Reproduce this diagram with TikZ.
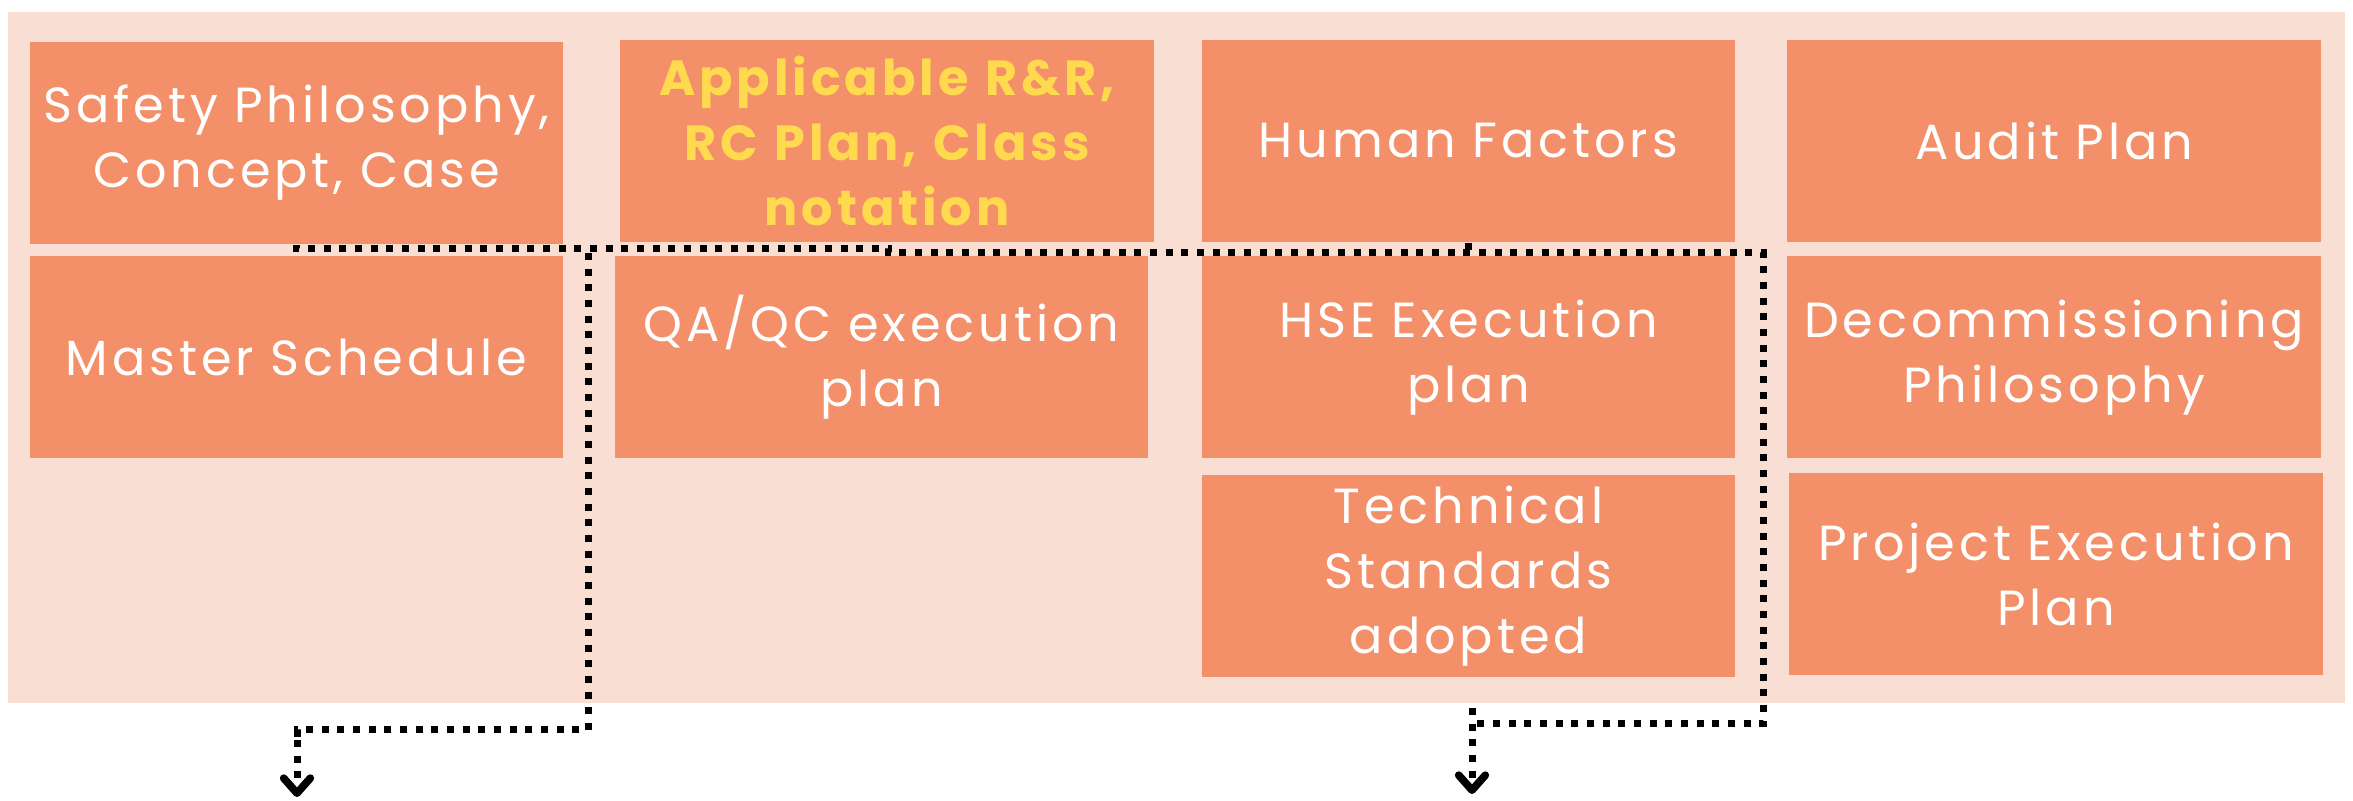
\documentclass[tikz,border=0pt]{standalone}
\usepackage{fontspec}
\setmainfont{Poppins}[LetterSpace=8]
\usetikzlibrary{arrows.meta}
\definecolor{pale}{HTML}{F9DED3}
\definecolor{salmon}{HTML}{F39069}
\definecolor{ylw}{HTML}{FFDA4F}
\tikzset{
  cell/.style={fill=salmon, draw=none, inner sep=0pt, minimum width=160pt, minimum height=60.6pt,
    text width=158pt, align=center, text=white, font=\fontsize{14.8}{19.5}\selectfont},
  hilite/.style={text=ylw, font=\fontsize{14.8}{19.5}\selectfont\bfseries},
  dotline/.style={line width=2.1pt, dash pattern=on 2.1pt off 2.6pt, black},
  chev/.style={-{Straight Barb[length=4.5pt,width=8pt,line width=2.3pt,line cap=round,line join=round]}}
}
\begin{document}
\begin{tikzpicture}[x=0.3pt,y=-0.3pt]
\useasboundingbox (0,0) rectangle (2353,801);
\fill[pale] (8,12) rectangle (2345,703);
% row 1
\node[cell] (safety) at (296.5,143) {Safety Philosophy,\\Concept, Case};
\node[cell,hilite] (rr) at (887,141) {Applicable R\&R,\\RC Plan, Class\\notation};
\node[cell] (hf) at (1468.5,141) {Human Factors};
\node[cell] (audit) at (2054,141) {Audit Plan};
% row 2
\node[cell] (master) at (296.5,357.5) {Master Schedule};
\node[cell] (qaqc) at (881.5,357.5) {QA/QC execution\\plan};
\node[cell] (hse) at (1468.5,357.5) {HSE Execution\\plan};
\node[cell] (decom) at (2054,357.5) {Decommissioning\\Philosophy};
% row 3
\node[cell] (tech) at (1468.5,576) {Technical\\Standards\\adopted};
\node[cell] (pep) at (2056,574.5) {Project Execution\\Plan};
% coordinates
\coordinate (j1) at (888,249);
\coordinate (j2) at (588,253);
\coordinate (a1) at (297,797);
\coordinate (a2top) at (1472,708);
\coordinate (a2) at (1472,794);
% connectors
\draw[dotline] (safety.south) -- (296.5,249) -- (j1) -- (888,253) -- (1763,253) -- (1763,724) -- (1472,724);
\draw[dotline] (hf.south) -- (1468.5,253);
\draw[dotline] (j2) -- (588,730) -- (297,730) -- (297,745);
\draw[dotline,chev] (297,740) -- (a1);
\draw[dotline,chev] (a2top) -- (a2);
\end{tikzpicture}
\end{document}
